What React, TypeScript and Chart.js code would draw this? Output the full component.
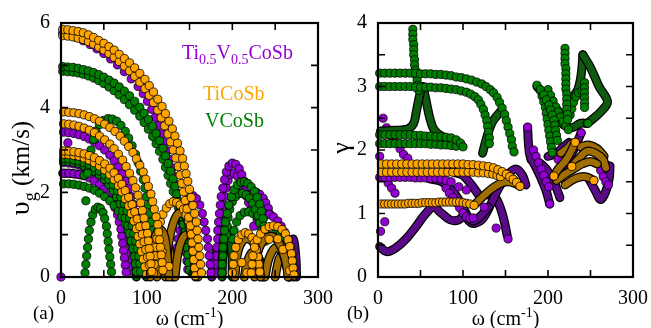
import React, { useEffect, useRef } from "react";
import { Chart, registerables } from "chart.js";

Chart.register(...registerables);

type Pt = [number, number];

// ---------- axes ----------
const omegaRange: Pt = [0, 300];
const vgRange: Pt = [0, 6];
const gammaRange: Pt = [0, 4];
const omegaStep = 100;
const vgStep = 2;
const gammaStep = 1;

// ---------- (a) group velocity, km/s vs ω, cm^-1 ----------
const tiVg: Pt[][] = [
  [[2,5.85],[8,5.84],[14,5.82],[20,5.8],[26,5.77],[32,5.72],[38,5.66],[44,5.59],[50,5.52],[56,5.44],[62,5.36],[68,5.26],[74,5.16],[80,5.06],[86,4.94],[92,4.81],[98,4.67],[103,4.52],[108,4.37],[113,4.2],[118,4.03],[122,3.86],[126,3.68],[130,3.5],[133,3.33],[136,3.16],[139,2.98],[142,2.8],[144,2.62],[146,2.44],[148,2.26],[150,2.07],[152,1.88],[154,1.69],[156,1.5],[158,1.3],[159,1.1],[160,0.9],[161,0.7],[162,0.5],[163,0.3],[164,0.1]],
  [[2,5.7],[8,5.69],[14,5.67],[20,5.64],[26,5.61],[32,5.56],[38,5.5],[44,5.43],[50,5.36],[56,5.28],[62,5.19],[68,5.09],[74,4.98],[80,4.87],[86,4.74],[92,4.6],[98,4.45],[103,4.29],[108,4.12],[113,3.94],[117,3.76],[121,3.57],[125,3.38],[128,3.19],[131,3.0],[134,2.81],[137,2.61],[139,2.41],[141,2.21],[143,2.01],[145,1.81],[147,1.61],[149,1.41],[151,1.21],[152,1.01],[153,0.81],[154,0.61],[155,0.41],[156,0.21],[157,0.03]],
  [[3,3.9],[9,3.89],[15,3.88],[21,3.86],[27,3.83],[33,3.79],[39,3.74],[45,3.68],[51,3.61],[57,3.53],[63,3.44],[69,3.33],[74,3.21],[79,3.08],[84,2.94],[88,2.79],[92,2.64],[96,2.48],[99,2.31],[102,2.14],[105,1.96],[107,1.78],[109,1.6],[111,1.42],[113,1.24],[114,1.06],[115,0.88],[116,0.7],[117,0.52],[118,0.34],[119,0.16]],
  [[3,3.62],[9,3.61],[15,3.59],[21,3.56],[27,3.52],[33,3.47],[39,3.41],[45,3.33],[51,3.24],[57,3.14],[62,3.03],[67,2.9],[72,2.76],[76,2.61],[80,2.45],[84,2.28],[87,2.11],[90,1.93],[93,1.75],[95,1.57],[97,1.39],[99,1.21],[101,1.03],[102,0.85],[103,0.67],[104,0.49],[105,0.31],[106,0.13]],
  [[3,2.98],[9,2.97],[15,2.96],[21,2.94],[27,2.91],[33,2.87],[39,2.82],[45,2.75],[51,2.67],[57,2.57],[62,2.46],[67,2.33],[71,2.19],[75,2.04],[79,1.88],[83,1.71],[86,1.54],[89,1.37],[92,1.19],[95,1.01],[97,0.83],[99,0.65],[101,0.47],[103,0.29],[105,0.11]],
  [[3,2.9],[9,2.89],[15,2.87],[21,2.85],[27,2.81],[33,2.76],[39,2.7],[45,2.62],[51,2.53],[57,2.42],[62,2.3],[67,2.16],[71,2.01],[75,1.85],[79,1.68],[82,1.5],[85,1.32],[88,1.14],[90,0.96],[92,0.78],[94,0.6],[96,0.42],[98,0.24],[100,0.06]],
  [[108,0.1],[109,0.3],[110,0.5],[111,0.7],[112,0.9],[114,1.1],[116,1.3],[119,1.48],[123,1.63],[127,1.73],[131,1.78],[135,1.76],[139,1.7],[143,1.6],[146,1.47],[149,1.32],[151,1.15],[153,0.97],[154,0.79],[155,0.61],[156,0.43],[157,0.25],[158,0.07]],
  [[222,0.1],[223,0.3],[224,0.5],[226,0.7],[229,0.88],[233,1.02],[238,1.13],[243,1.19],[248,1.21],[253,1.19],[258,1.12],[262,1.02],[265,0.88],[267,0.72],[269,0.55],[270,0.38],[271,0.21],[272,0.05]],
  [[200,0.1],[201,0.3],[202,0.5],[204,0.7],[207,0.88],[211,1.0],[215,1.05],[219,1.02],[223,0.93],[226,0.8],[228,0.64],[230,0.47],[231,0.3],[232,0.12]],
  [[211,0.34],[217,0.1],[243,0.89],[253,0.9],[259,0.65],[267,0.15],[118,0.6],[126,0.25]],
];
const tiVgTubes: Pt[][] = [
  [[104,0],[107,0.6],[111,1.0],[116,1.12],[121,0.95],[124,0.5],[126,0]],
  [[122,0],[125,0.7],[130,1.2],[137,1.5],[145,1.45],[151,1.1],[155,0.5],[157,0]],
  [[133,0],[137,0.6],[143,0.95],[150,1.0],[156,0.7],[160,0]],
  [[112,0],[116,0.6],[121,0.8],[127,0.6],[130,0]],
  [[203,0],[206,0.55],[212,0.85],[220,0.9],[228,0.65],[233,0]],
  [[226,0],[230,0.6],[238,0.9],[248,0.95],[257,0.7],[263,0.3],[265,0]],
  [[238,0],[243,0.45],[251,0.7],[259,0.55],[264,0.2],[267,0]],
  [[214,0],[218,0.4],[225,0.6],[232,0.4],[236,0]],
  [[250,0],[255,0.45],[262,0.6],[268,0.4],[271,0]],
];

const vVg: Pt[][] = [
  [[2,4.97],[8,4.96],[14,4.95],[20,4.93],[26,4.9],[32,4.87],[38,4.83],[44,4.78],[50,4.72],[56,4.65],[62,4.58],[68,4.49],[74,4.39],[80,4.28],[86,4.15],[92,4.01],[97,3.87],[102,3.72],[107,3.56],[111,3.39],[115,3.22],[119,3.04],[122,2.86],[125,2.68],[128,2.5],[131,2.32],[133,2.14],[135,1.96],[137,1.78],[139,1.6],[141,1.42],[143,1.24],[145,1.06],[146,0.88],[147,0.7],[148,0.52],[149,0.34],[150,0.16]],
  [[2,4.86],[8,4.85],[14,4.84],[20,4.82],[26,4.79],[32,4.75],[38,4.7],[44,4.64],[50,4.57],[56,4.49],[62,4.4],[68,4.3],[74,4.19],[80,4.07],[86,3.94],[92,3.8],[97,3.65],[102,3.49],[107,3.32],[111,3.15],[115,2.97],[119,2.78],[122,2.59],[125,2.4],[128,2.21],[131,2.02],[134,1.83],[137,1.64],[140,1.45],[142,1.26],[144,1.07],[146,0.88],[148,0.69],[150,0.5],[151,0.31],[152,0.12]],
  [[31,2.45],[33,2.75],[35,3.0],[38,3.25],[41,3.45],[45,3.6],[50,3.7],[55,3.74],[60,3.73],[65,3.68],[70,3.58],[75,3.44],[79,3.28],[83,3.1],[87,2.9],[90,2.7],[93,2.5],[96,2.3],[98,2.1],[100,1.9],[102,1.7],[104,1.5],[105,1.3],[106,1.1],[107,0.9],[108,0.7],[109,0.5],[110,0.3],[111,0.1]],
  [[3,2.8],[9,2.79],[15,2.77],[21,2.74],[27,2.7],[33,2.65],[39,2.58],[45,2.5],[51,2.41],[56,2.3],[61,2.18],[66,2.04],[70,1.89],[74,1.73],[77,1.56],[80,1.39],[83,1.21],[85,1.03],[87,0.85],[89,0.67],[91,0.49],[92,0.31],[93,0.13]],
  [[3,2.74],[9,2.73],[15,2.71],[21,2.68],[27,2.63],[33,2.57],[39,2.5],[45,2.41],[51,2.3],[56,2.18],[61,2.04],[65,1.89],[69,1.73],[72,1.56],[75,1.39],[78,1.21],[80,1.03],[82,0.85],[84,0.67],[86,0.49],[87,0.31],[88,0.13]],
  [[3,2.2],[9,2.2],[15,2.19],[21,2.17],[27,2.14],[33,2.1],[39,2.05],[45,1.98],[51,1.9],[57,1.8],[62,1.69],[67,1.56],[71,1.42],[75,1.27],[78,1.11],[81,0.95],[83,0.78],[85,0.61],[87,0.44],[88,0.27],[89,0.1]],
  [[28,0.1],[29,0.3],[30,0.5],[31,0.7],[32,0.9],[33,1.1],[35,1.3],[37,1.47],[40,1.6],[43,1.65],[46,1.62],[49,1.52],[51,1.38],[53,1.2],[54,1.02],[55,0.84],[56,0.66],[57,0.48],[58,0.3],[59,0.12]],
  [[188,0.1],[188,0.3],[189,0.5],[189,0.7],[190,0.9],[191,1.1],[192,1.3],[194,1.5],[196,1.7],[199,1.9],[202,2.06],[206,2.18],[210,2.24],[214,2.25],[218,2.21],[222,2.13],[226,2.02],[229,1.88],[232,1.72],[234,1.55],[236,1.38],[237,1.2],[238,1.02],[239,0.85]],
  [[193,1.0],[194,1.2],[195,1.4],[197,1.6],[200,1.78],[204,1.9],[208,1.97],[212,1.98],[216,1.94],[220,1.86],[224,1.74],[227,1.6],[230,1.45],[232,1.28],[234,1.1]],
  [[200,0.9],[202,1.1],[205,1.3],[209,1.45],[214,1.53],[219,1.54],[224,1.5],[229,1.42],[233,1.3],[237,1.17],[240,1.02]],
  [[250,1.02],[256,1.0],[261,0.94],[265,0.84],[268,0.7],[270,0.54],[271,0.38],[272,0.22],[273,0.06]],
  [[29,1.8],[27,2.4]],
];
const vVgTubes: Pt[][] = [
  [[188,0],[189,0.6],[192,1.05],[196,1.1],[199,0.7],[200,0]],
  [[88,0],[90,0.6],[94,0.95],[98,0.6],[100,0]],
];

const alloyVg: Pt[][] = [
  [[2,5.76],[10,5.72],[18,5.66],[26,5.58],[34,5.49],[42,5.39],[50,5.28],[58,5.15],[66,5.01],[74,4.85],[82,4.68],[90,4.5],[96,4.33],[101,4.15],[106,3.96],[110,3.77],[114,3.58],[118,3.38],[121,3.18],[124,2.98],[127,2.78],[130,2.58],[132,2.38],[134,2.18],[136,1.98],[138,1.78],[140,1.58],[142,1.38],[143,1.18],[144,0.98],[145,0.78],[146,0.58],[147,0.38],[148,0.18]],
  [[3,2.45],[9,2.45],[15,2.44],[21,2.42],[27,2.39],[33,2.34],[39,2.27],[45,2.18],[50,2.07],[55,1.94],[59,1.8],[63,1.64],[66,1.47],[68,1.3],[70,1.13],[71,0.96],[72,0.79],[73,0.62],[74,0.45],[75,0.28],[76,0.11]],
  [[3,2.7],[9,2.69],[15,2.67],[21,2.64],[27,2.6],[33,2.55],[39,2.48],[45,2.4],[51,2.3],[56,2.19],[61,2.06],[65,1.92],[69,1.77],[72,1.61],[75,1.44],[77,1.27],[79,1.1],[80,0.93],[81,0.76],[82,0.59],[83,0.42],[84,0.25],[85,0.08]],
  [[3,3.42],[9,3.41],[15,3.39],[21,3.36],[27,3.32],[33,3.26],[39,3.19],[45,3.1],[51,3.0],[57,2.88],[62,2.75],[67,2.6],[71,2.44],[75,2.27],[79,2.09],[82,1.9],[85,1.71],[88,1.52],[90,1.33],[92,1.14],[94,0.95],[95,0.76],[96,0.57],[97,0.38],[98,0.19],[99,0.03]],
  [[133,0.1],[134,0.3],[135,0.5],[136,0.7],[137,0.9],[139,1.1],[141,1.3],[143,1.5],[146,1.7],[150,1.85],[154,1.92],[158,1.85],[162,1.7],[165,1.5],[167,1.3],[169,1.1],[171,0.9],[172,0.7],[173,0.5],[174,0.3],[175,0.1]],
  [[181,0.1],[181,0.3],[182,0.5],[182,0.7],[183,0.9],[183,1.1],[184,1.3],[185,1.5],[186,1.7],[187,1.9],[189,2.1],[191,2.3],[193,2.48],[196,2.62],[200,2.69],[204,2.66],[208,2.56],[211,2.42],[214,2.26],[217,2.1],[220,1.94],[223,1.78],[227,1.63],[231,1.5],[236,1.38]],
  [[185,0.9],[186,1.1],[187,1.3],[188,1.5],[189,1.7],[191,1.9],[193,2.1],[195,2.28],[198,2.42],[202,2.45],[206,2.38],[210,2.24],[213,2.08],[216,1.92],[219,1.76],[222,1.6]],
  [[225,1.2],[229,1.35],[233,1.45],[238,1.5],[243,1.48],[248,1.42],[253,1.32],[257,1.2],[261,1.06],[264,0.9],[267,0.72],[269,0.54],[270,0.36],[271,0.18],[272,0.02]],
  [[224,2.02],[228,2.0],[232,1.95],[236,1.86],[239,1.75],[242,1.62],[244,1.48]],
  [[8,3.17],[0,0]],
];
const alloyVgTubes: Pt[][] = [
  [[266,0],[268,0.5],[271,0.9],[274,0.5],[275,0]],
  [[2,2.45],[10,2.45],[18,2.43],[25,2.41]],
  [[176,0],[178,0.4],[181,0.6]],
];

// ---------- (b) Grüneisen parameter γ vs ω, cm^-1 ----------
const tiGamma: Pt[][] = [
  [[4,1.78],[10,1.78],[16,1.78],[22,1.78],[28,1.78],[34,1.78],[40,1.78],[46,1.78],[52,1.78],[58,1.78],[64,1.78],[70,1.78],[76,1.78],[82,1.78],[88,1.78],[94,1.78],[100,1.78],[106,1.77],[112,1.77],[118,1.76],[124,1.75],[130,1.74],[136,1.72],[141,1.69],[146,1.66],[151,1.62],[155,1.58],[159,1.54],[163,1.49],[167,1.43]],
  [[4,1.65],[10,1.65],[16,1.65],[22,1.65],[28,1.65],[34,1.65],[40,1.65],[46,1.65],[52,1.65],[58,1.65],[64,1.65],[70,1.65],[76,1.65],[82,1.65],[88,1.65],[94,1.65],[100,1.65],[106,1.65],[112,1.65],[118,1.64],[124,1.64],[130,1.63],[135,1.62],[140,1.6],[144,1.58]],
  [[4,1.15],[8,1.15],[12,1.15],[16,1.15],[20,1.15],[24,1.15],[28,1.15],[32,1.15],[36,1.16],[40,1.16],[44,1.16],[48,1.16],[52,1.17],[56,1.17],[60,1.17],[64,1.17],[68,1.17],[72,1.18],[76,1.18],[80,1.18],[84,1.18],[88,1.18],[92,1.18],[96,1.18],[100,1.17],[104,1.16],[108,1.15],[113,1.13]],
  [[207,1.59],[232,2.12],[228,1.74],[254,1.52]],
];
const tiGammaTubes: Pt[][] = [
  [[113,1.13],[122,1.25],[132,1.37],[142,1.46],[152,1.5],[162,1.47],[167,1.43]],
  [[135,1.7],[145,1.65],[155,1.58],[162,1.5],[167,1.43]],
  [[207,1.59],[212,1.7],[220,1.82],[226,1.95],[232,2.12]],
  [[210,1.52],[220,1.62],[230,1.7],[240,1.78],[250,1.82],[258,1.78]],
  [[228,1.74],[236,1.86],[246,1.98],[256,1.95],[265,1.85],[268,1.72]],
  [[220,1.45],[232,1.55],[244,1.58],[254,1.52]],
  [[238,2.05],[248,2.08],[258,2.02],[266,1.9]],
  [[215,1.95],[222,2.02],[228,2.1],[232,2.12]],
];

const vGamma: Pt[][] = [
  [[2,3.21],[8,3.21],[14,3.21],[20,3.21],[26,3.21],[32,3.21],[38,3.21],[44,3.21],[50,3.2],[56,3.2],[62,3.2],[68,3.19],[74,3.19],[80,3.18],[86,3.17],[92,3.15],[98,3.14],[104,3.12],[110,3.1],[116,3.07],[122,3.04],[127,3.0],[132,2.95],[136,2.9],[140,2.83],[143,2.75],[146,2.66],[149,2.56],[151,2.46],[153,2.36],[155,2.26],[157,2.16],[158,2.06],[160,1.97]],
  [[2,3.0],[8,3.0],[14,3.0],[20,3.0],[26,3.0],[32,3.0],[38,3.0],[44,2.99],[50,2.99],[56,2.99],[62,2.99],[68,2.98],[74,2.98],[80,2.97],[86,2.96],[92,2.95],[98,2.93],[104,2.91],[109,2.88],[114,2.84],[118,2.79],[121,2.72],[124,2.64],[126,2.55],[128,2.46],[129,2.37],[130,2.28],[131,2.19],[131,2.1]],
  [[41,3.9],[41,3.82],[41,3.74],[42,3.66],[42,3.58],[42,3.5],[43,3.42],[43,3.34],[44,3.26],[45,3.18],[46,3.1],[47,3.02],[48,2.94]],
  [[2,2.24],[8,2.24],[14,2.24],[20,2.24],[26,2.24],[32,2.24],[38,2.24],[44,2.23],[50,2.23],[56,2.22],[62,2.22],[68,2.21],[74,2.21],[80,2.2],[86,2.19],[92,2.16],[97,2.11],[100,2.05]],
  [[2,2.1],[8,2.1],[14,2.1],[20,2.1],[26,2.1],[32,2.1],[38,2.1],[44,2.1],[50,2.1],[56,2.1],[62,2.09],[68,2.09],[74,2.08],[80,2.08],[86,2.07],[92,2.06]],
  [[220,3.6],[220,3.52],[220,3.44],[220,3.36],[221,3.28],[221,3.2],[221,3.12],[221,3.04],[221,2.96],[222,2.88],[222,2.8],[222,2.72],[222,2.64],[223,2.56],[223,2.48]],
  [[243,3.06],[243,2.98],[243,2.9],[243,2.82],[243,2.74],[243,2.67]],
  [[187,3.02],[191,2.95],[195,2.87],[198,2.79],[201,2.71],[203,2.63],[205,2.55],[207,2.47],[208,2.39],[209,2.31],[210,2.23],[211,2.15]],
  [[193,2.85],[195,2.76],[197,2.67],[198,2.58],[199,2.49],[200,2.4],[201,2.31],[202,2.22],[203,2.13],[204,2.04],[205,1.96]],
  [[200,2.95],[203,2.86],[206,2.77],[209,2.68],[212,2.6],[215,2.52],[218,2.45],[221,2.38],[224,2.32]],
  [[226,2.55],[228,2.65],[230,2.75],[233,2.84],[236,2.9],[240,2.93]],
  [[247,2.42]],
];
const vGammaTubes: Pt[][] = [
  [[3,2.3],[20,2.31],[35,2.33],[42,2.42],[45,2.6],[48,2.8],[51,2.98]],
  [[53,3.0],[57,2.75],[61,2.5],[66,2.32],[75,2.22],[88,2.15],[98,2.08]],
  [[123,1.95],[128,2.2],[135,2.45],[145,2.62]],
  [[187,3.0],[200,2.8],[210,2.65],[218,2.5]],
  [[241,3.5],[250,3.3],[260,3.0],[270,2.76],[262,2.6],[252,2.48],[246,2.42]],
  [[241,3.5],[240,3.3],[238,3.1],[235,2.95],[230,2.85]],
  [[210,2.5],[218,2.4],[228,2.35],[238,2.42],[246,2.42]],
];

const alloyGamma: Pt[][] = [
  [[2,1.57],[8,1.57],[14,1.57],[20,1.57],[26,1.57],[32,1.57],[38,1.57],[44,1.56],[50,1.56],[56,1.56],[62,1.55],[68,1.55],[74,1.54],[80,1.52],[86,1.5]],
  [[6,2.5],[10,2.35],[15,2.23],[20,2.12],[26,2.02],[30,1.93],[35,1.87],[2,1.9],[12,1.48],[16,1.4],[20,1.32],[8,0.87],[3,0.72],[104,1.37],[112,0.93],[139,0.77],[153,0.6],[176,2.36],[202,1.15],[239,2.27],[95,1.42],[125,1.1]],
  [[80,1.4],[84,1.32],[88,1.25],[92,1.17],[96,1.09],[100,1.01],[104,0.95],[108,0.92]],
  [[183,2.0],[186,1.9],[189,1.8],[192,1.7],[195,1.6],[198,1.5],[201,1.42]],
  [[208,1.95],[212,1.85],[216,1.75],[220,1.68]],
  [[262,1.68],[265,1.58],[268,1.5],[271,1.45]],
];
const alloyGammaTubes: Pt[][] = [
  [[2,0.48],[10,0.4],[20,0.45],[33,0.6],[45,0.8],[55,0.98],[65,1.1],[75,1.0],[85,0.9],[95,0.9],[103,1.0]],
  [[60,1.55],[75,1.5],[88,1.35],[98,1.15],[106,0.95],[112,0.88],[120,0.95],[130,1.1]],
  [[100,1.02],[110,0.85],[122,0.9],[133,1.15],[142,1.4],[152,1.6],[162,1.7],[170,1.6],[174,1.45]],
  [[128,1.3],[138,1.25],[145,1.05],[149,0.85],[152,0.65]],
  [[80,1.75],[90,1.65],[100,1.6],[110,1.45],[118,1.3]],
  [[176,2.36],[177,2.1],[179,1.9],[185,1.75],[192,1.55],[198,1.35],[202,1.15]],
  [[180,1.85],[190,1.8],[198,1.7],[205,1.55],[210,1.4],[214,1.25]],
  [[215,1.7],[224,1.85],[232,2.05],[239,2.27]],
  [[248,1.55],[256,1.35],[262,1.22],[268,1.35],[272,1.55],[273,1.75]],
  [[200,1.9],[210,1.95],[218,2.05],[225,2.12]],
];

// ---------- styling ----------
const PURPLE = "#9400d3";
const ORANGE = "#ffa500";
const GREEN = "#008000";
const PURPLE_DARK = "#5a0c88";
const ORANGE_DARK = "#a06e00";
const GREEN_DARK = "#105a10";
const FONT = '"Liberation Serif", "Times New Roman", serif';

const toXY = (pts: Pt[]) => pts.map(([x, y]) => ({ x, y }));

function circleSets(branches: Pt[][], color: string) {
  return branches.map((b) => ({
    data: toXY(b),
    showLine: false,
    pointRadius: 4.1,
    pointBackgroundColor: color,
    pointBorderColor: "#000",
    pointBorderWidth: 0.8,
    clip: false,
  }));
}

function tubeSets(branches: Pt[][], color: string) {
  const out: any[] = [];
  branches.forEach((b) => {
    const base = {
      data: toXY(b),
      showLine: true,
      pointRadius: 0,
      tension: 0.35,
      borderCapStyle: "round",
      borderJoinStyle: "round",
      fill: false,
      clip: false,
    };
    out.push({ ...base, borderColor: color, borderWidth: 6.5 });
    out.push({ ...base, borderColor: "#000", borderWidth: 9 });
  });
  return out;
}

type Run = { t: string; size: number; dy: number };

function runsWidth(ctx: CanvasRenderingContext2D, runs: Run[]) {
  let w = 0;
  runs.forEach((r) => {
    ctx.font = `${r.size}px ${FONT}`;
    w += ctx.measureText(r.t).width;
  });
  return w;
}

function drawRuns(ctx: CanvasRenderingContext2D, runs: Run[], x: number, y: number, center: boolean, color: string) {
  let cx = center ? x - runsWidth(ctx, runs) / 2 : x;
  ctx.fillStyle = color;
  ctx.textAlign = "left";
  ctx.textBaseline = "alphabetic";
  runs.forEach((r) => {
    ctx.font = `${r.size}px ${FONT}`;
    ctx.fillText(r.t, cx, y + r.dy);
    cx += ctx.measureText(r.t).width;
  });
}

const decor = {
  id: "decor",
  afterDatasetsDraw(chart: any, _args: any, o: any) {
    const { ctx, chartArea: ca, scales } = chart;
    const xs = scales.x;
    const ys = scales.y;
    const T = 7;
    ctx.save();
    ctx.strokeStyle = "#000";
    ctx.lineWidth = 1.6;
    ctx.beginPath();
    for (let v = xs.min; v <= xs.max + 1e-6; v += o.xMinor) {
      const p = xs.getPixelForValue(v);
      ctx.moveTo(p, ca.bottom);
      ctx.lineTo(p, ca.bottom - T);
      ctx.moveTo(p, ca.top);
      ctx.lineTo(p, ca.top + T);
    }
    for (let v = ys.min; v <= ys.max + 1e-6; v += o.yMinor) {
      const p = ys.getPixelForValue(v);
      ctx.moveTo(ca.left, p);
      ctx.lineTo(ca.left + T, p);
      ctx.moveTo(ca.right, p);
      ctx.lineTo(ca.right - T, p);
    }
    ctx.stroke();
    ctx.lineWidth = 2.2;
    ctx.strokeRect(ca.left, ca.top, ca.right - ca.left, ca.bottom - ca.top);

    // x-axis title
    drawRuns(
      ctx,
      [
        { t: "ω (cm", size: 20, dy: 0 },
        { t: "-1", size: 14, dy: -8 },
        { t: ")", size: 20, dy: 0 },
      ],
      (ca.left + ca.right) / 2,
      325,
      true,
      "#000"
    );
    // panel tag
    drawRuns(ctx, [{ t: o.tag, size: 19, dy: 0 }], o.tagX, 319, false, "#000");
    // y-axis title (rotated)
    ctx.save();
    ctx.translate(o.yTitleX, o.yTitleY);
    ctx.rotate(-Math.PI / 2);
    drawRuns(ctx, o.yTitle, 0, 0, true, "#000");
    ctx.restore();
    // material labels
    if (o.labels) {
      o.labels.forEach((l: any) => drawRuns(ctx, l.runs, l.x, l.y, false, l.color));
    }
    ctx.restore();
  },
};

const materialLabels = [
  {
    runs: [
      { t: "Ti", size: 20, dy: 0 },
      { t: "0.5", size: 14, dy: 5 },
      { t: "V", size: 20, dy: 0 },
      { t: "0.5", size: 14, dy: 5 },
      { t: "CoSb", size: 20, dy: 0 },
    ],
    x: 182,
    y: 59,
    color: PURPLE,
  },
  { runs: [{ t: "TiCoSb", size: 20, dy: 0 }], x: 203, y: 100, color: ORANGE },
  { runs: [{ t: "VCoSb", size: 20, dy: 0 }], x: 205, y: 127, color: GREEN },
];

function makeConfig(opts: {
  datasets: any[];
  yRange: Pt;
  yStep: number;
  yWidth: number;
  padRight: number;
  decor: any;
}) {
  const tickFont = { family: FONT, size: 20 };
  return {
    type: "scatter",
    data: { datasets: opts.datasets },
    options: {
      responsive: false,
      animation: false,
      events: [],
      layout: { padding: { left: 0, top: 23, right: opts.padRight, bottom: 0 } },
      plugins: {
        legend: { display: false },
        tooltip: { enabled: false },
        decor: opts.decor,
      },
      scales: {
        x: {
          type: "linear",
          min: omegaRange[0],
          max: omegaRange[1],
          grid: { display: false },
          border: { display: false },
          ticks: {
            stepSize: omegaStep,
            font: tickFont,
            color: "#000",
            padding: 2,
            maxRotation: 0,
            autoSkip: false,
          },
          afterFit: (s: any) => {
            s.height = 51;
          },
        },
        y: {
          type: "linear",
          min: opts.yRange[0],
          max: opts.yRange[1],
          grid: { display: false },
          border: { display: false },
          ticks: {
            stepSize: opts.yStep,
            font: tickFont,
            color: "#000",
            padding: 3,
            autoSkip: false,
          },
          afterFit: (s: any) => {
            s.width = opts.yWidth;
          },
        },
      },
    },
    plugins: [decor],
  } as any;
}

export default function App() {
  const refA = useRef<HTMLCanvasElement>(null);
  const refB = useRef<HTMLCanvasElement>(null);

  useEffect(() => {
    document.body.style.margin = "0";
    const chartA = new Chart(
      refA.current as HTMLCanvasElement,
      makeConfig({
        datasets: [
          ...circleSets(tiVg, ORANGE),
          ...tubeSets(tiVgTubes, ORANGE_DARK),
          ...circleSets(vVg, GREEN),
          ...tubeSets(vVgTubes, GREEN_DARK),
          ...circleSets(alloyVg, PURPLE),
          ...tubeSets(alloyVgTubes, PURPLE_DARK),
        ],
        yRange: vgRange,
        yStep: vgStep,
        yWidth: 61,
        padRight: 27,
        decor: {
          xMinor: 50,
          yMinor: 1,
          tag: "(a)",
          tagX: 33,
          yTitleX: 29,
          yTitleY: 168,
          yTitle: [
            { t: "υ", size: 28, dy: 0 },
            { t: "g", size: 18, dy: 7 },
            { t: " (km/s)", size: 25, dy: 0 },
          ],
          labels: materialLabels,
        },
      })
    );
    const chartB = new Chart(
      refB.current as HTMLCanvasElement,
      makeConfig({
        datasets: [
          ...circleSets(tiGamma, ORANGE),
          ...tubeSets(tiGammaTubes, ORANGE_DARK),
          ...circleSets(vGamma, GREEN),
          ...tubeSets(vGammaTubes, GREEN_DARK),
          ...circleSets(alloyGamma, PURPLE),
          ...tubeSets(alloyGammaTubes, PURPLE_DARK),
        ],
        yRange: gammaRange,
        yStep: gammaStep,
        yWidth: 53,
        padRight: 18,
        decor: {
          xMinor: 50,
          yMinor: 0.5,
          tag: "(b)",
          tagX: 22,
          yTitleX: 24,
          yTitleY: 148,
          yTitle: [{ t: "γ", size: 26, dy: 0 }],
          labels: null,
        },
      })
    );
    return () => {
      chartA.destroy();
      chartB.destroy();
    };
  }, []);

  return (
    <div style={{ position: "relative", width: 651, height: 328, background: "#fff", overflow: "hidden" }}>
      <canvas ref={refA} width={345} height={328} style={{ position: "absolute", left: 0, top: 0 }} />
      <canvas ref={refB} width={326} height={328} style={{ position: "absolute", left: 325, top: 0 }} />
    </div>
  );
}
